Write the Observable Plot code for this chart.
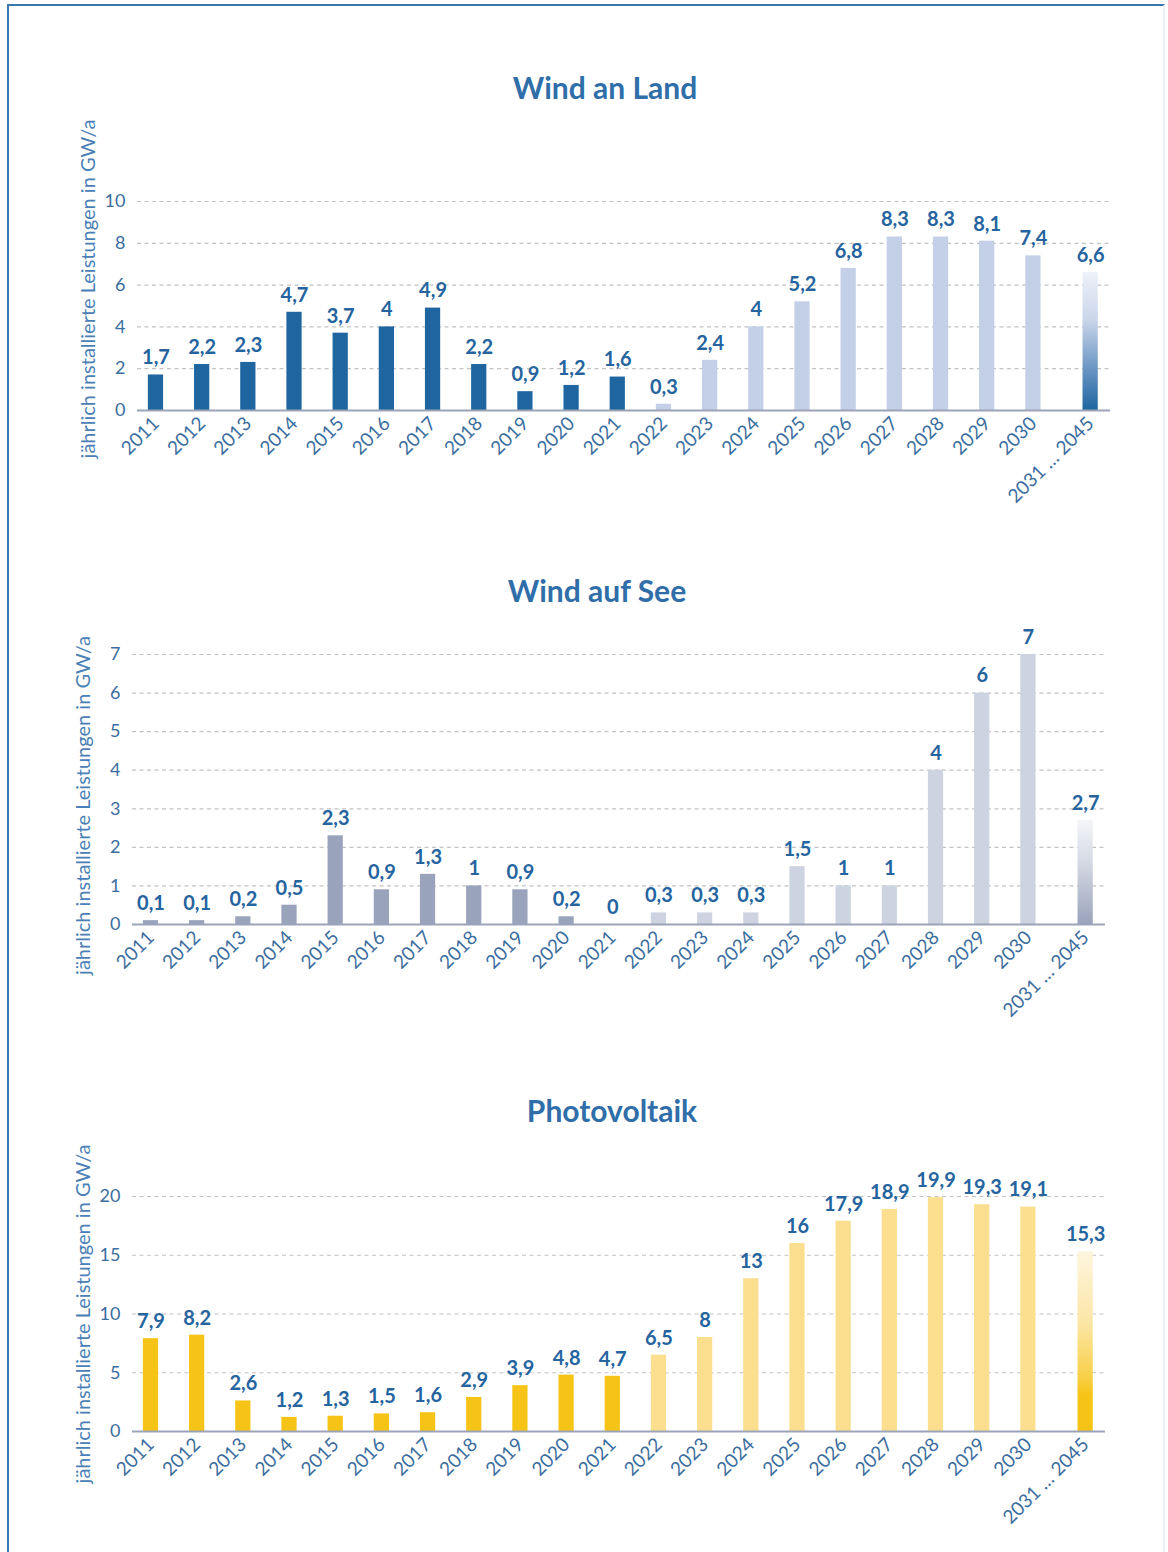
<!DOCTYPE html>
<html><head><meta charset="utf-8">
<script src="https://cdn.jsdelivr.net/npm/d3@7"></script>
<script src="https://cdn.jsdelivr.net/npm/@observablehq/plot@0.6"></script>
<style>
body{margin:0;background:#fff;width:1168px;height:1552px;position:relative;overflow:hidden;font-family:Lato,"Open Sans",sans-serif;}
.frame{position:absolute;left:7px;top:4px;width:1154px;height:1600px;border-top:2px solid #3a76b2;border-left:2px solid #3a76b2;border-right:2px solid #edf2f8;}
.title{position:absolute;width:600px;text-align:center;font-weight:700;font-size:30px;line-height:36px;color:#2f6ea8;}
.panel{position:absolute;left:0;}
</style></head><body>
<div class="frame"></div>
<div id="root"></div>
<script>
const categories = ["2011","2012","2013","2014","2015","2016","2017","2018","2019","2020","2021","2022","2023","2024","2025","2026","2027","2028","2029","2030","2031 … 2045"];
const windLand = [1.7,2.2,2.3,4.7,3.7,4,4.9,2.2,0.9,1.2,1.6,0.3,2.4,4,5.2,6.8,8.3,8.3,8.1,7.4,6.6];
const windSee = [0.1,0.1,0.2,0.5,2.3,0.9,1.3,1,0.9,0.2,0,0.3,0.3,0.3,1.5,1,1,4,6,7,2.7];
const photovoltaik = [7.9,8.2,2.6,1.2,1.3,1.5,1.6,2.9,3.9,4.8,4.7,6.5,8,13,16,17.9,18.9,19.9,19.3,19.1,15.3];
const titles = ["Wind an Land","Wind auf See","Photovoltaik"];
const ticksLand = [0,2,4,6,8,10];
const ticksSee = [0,1,2,3,4,5,6,7];
const ticksPV = [0,5,10,15,20];
const lastHistoricYear = 2021;
const yTitle = "jährlich installierte Leistungen in GW/a";

const fmt = v => String(v).replace(".", ",");

// layout: slot positions along x (the last, aggregated slot sits a bit further right)
const n = categories.length;
const lastGap = 1.24;
const slots = categories.map((c, i) => i < n - 1 ? i : (n - 2) + lastGap);
const barHalf = 0.165;

const panels = [
  {title: titles[0], titleX: 605, titleY: 87, values: windLand, ticks: ticksLand, max: 10, top: 180, mt: 21, ph: 209, mb: 120, ml: 137, mr: 58, tdy: -17,
   id: "gLand", hist: "#1f66a0", future: "#c3d0e7", stops: [[0,"#eef2f9"],[0.35,"#c9d5ea"],[0.75,"#5d8cbd"],[1,"#1f66a0"]]},
  {title: titles[1], titleX: 597, titleY: 590, values: windSee, ticks: ticksSee, max: 7, top: 630, mt: 24, ph: 270, mb: 120, ml: 132, mr: 63, tdy: 16,
   id: "gSee", hist: "#99a3bb", future: "#cdd3e1", stops: [[0,"#f4f5f8"],[0.4,"#d6dae4"],[1,"#99a3bb"]]},
  {title: titles[2], titleX: 612, titleY: 1110, values: photovoltaik, ticks: ticksPV, max: 20, top: 1170, mt: 26, ph: 235, mb: 120, ml: 132, mr: 63, tdy: 0,
   id: "gPV", hist: "#f5c416", future: "#fcdf8e", stops: [[0,"#fdf5de"],[0.4,"#fce6a6"],[0.7,"#f8d048"],[0.8,"#f5c416"],[1,"#f5c416"]]}
];

const root = document.getElementById("root");
for (const cfg of panels) {
  const t = document.createElement("div");
  t.className = "title";
  t.style.top = (cfg.titleY - 18) + "px";
  t.style.left = (cfg.titleX - 300) + "px";
  t.textContent = cfg.title;
  root.appendChild(t);

  const data = categories.map((c, i) => ({cat: c, v: cfg.values[i], i, pos: slots[i]}));
  const fillOf = d => d.i === n - 1 ? `url(#${cfg.id})` : (+d.cat <= lastHistoricYear ? cfg.hist : cfg.future);
  const defs = () => {
    const g = d3.create("svg:defs");
    const lg = g.append("linearGradient").attr("id", cfg.id).attr("x1", 0).attr("y1", 0).attr("x2", 0).attr("y2", 1);
    cfg.stops.forEach(([o, c]) => lg.append("stop").attr("offset", o).attr("stop-color", c));
    return g.node();
  };
  const plot = Plot.plot({
    width: 1168,
    height: cfg.mt + cfg.ph + cfg.mb,
    marginTop: cfg.mt, marginBottom: cfg.mb, marginLeft: cfg.ml, marginRight: cfg.mr,
    style: {fontFamily: "Lato, 'Open Sans', sans-serif", fontSize: "17px", color: "#3b6d9e", background: "transparent", overflow: "visible"},
    x: {type: "linear", domain: [-0.4, slots[n - 1] + 0.43], label: null},
    y: {domain: [0, cfg.max], label: null},
    color: {type: "identity"},
    marks: [
      defs,
      Plot.gridY(cfg.ticks.filter(t => t > 0), {stroke: "#c2c2c2", strokeOpacity: 1, strokeDasharray: "4,3.5", strokeWidth: 1.2}),
      Plot.rectY(data, {x1: d => d.pos - barHalf, x2: d => d.pos + barHalf, y1: 0, y2: "v", fill: fillOf}),
      Plot.ruleY([0], {stroke: "#9ba4b8", strokeWidth: 2}),
      Plot.axisY(cfg.ticks, {tickSize: 0, tickPadding: 12, fontSize: 18, label: null}),
      Plot.axisX(slots, {tickSize: 0, tickRotate: -45, tickPadding: 10, label: null, fontSize: 19,
        tickFormat: d => categories[slots.indexOf(d)]}),
      Plot.text(data, {x: "pos", y: "v", text: d => fmt(d.v), dy: -17, fontWeight: 700, fill: "#25649e", fontSize: 20}),
      Plot.text([yTitle], {frameAnchor: "left", textAnchor: "middle", rotate: -90, dx: -49, dy: cfg.tdy, fill: "#4a80b6", fontSize: 20})
    ]
  });
  plot.classList.add("panel");
  plot.style.top = cfg.top + "px";
  root.appendChild(plot);
}
</script>
</body></html>
